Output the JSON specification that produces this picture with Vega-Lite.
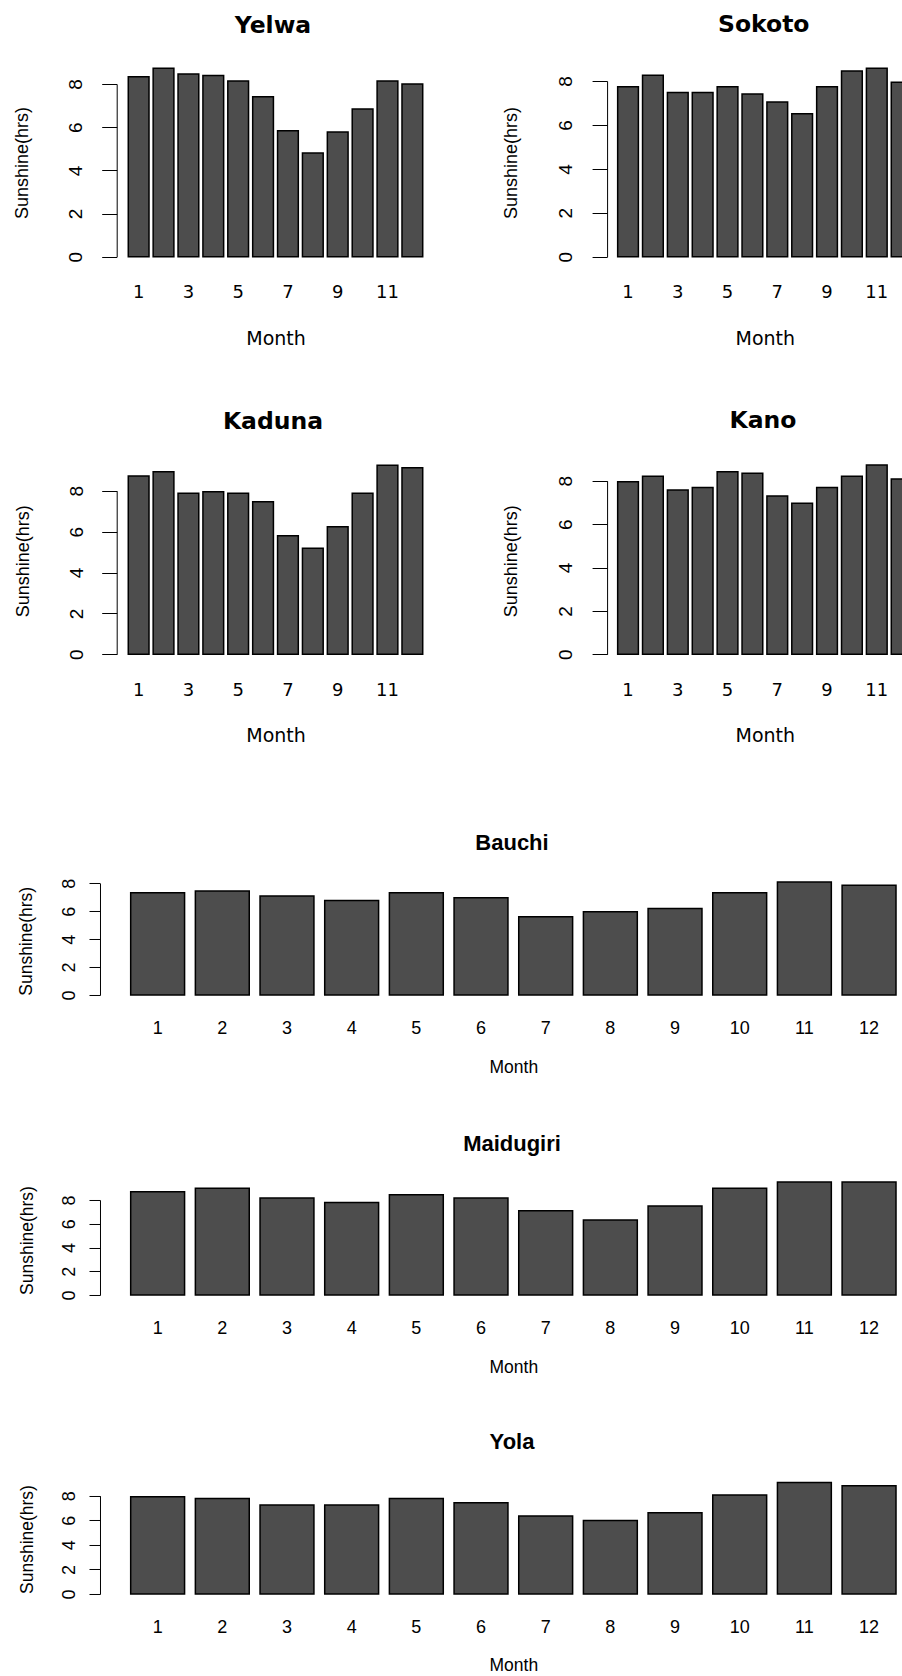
{
  "$schema": "https://vega.github.io/schema/vega-lite/v6.json",
  "background": "white",
  "padding": {"left": 13.7, "top": 0, "right": 0, "bottom": 0},
  "columns": 1,
  "align": "each",
  "bounds": "full",
  "spacing": 0,
  "config": {
    "view": {"stroke": null},
    "axis": {"grid": false, "domainColor": "#000", "tickColor": "#000", "labelColor": "#000", "titleColor": "#000", "labelFlush": false, "labelOverlap": false, "labelBound": false, "titleFontWeight": "normal"},
    "title": {"color": "#000", "frame": "group", "anchor": "middle", "offset": 0}
  },
  "datasets": {
    "sun": [
      {"station": "Yelwa", "month": 1, "sunshine": 8.34}, {"station": "Yelwa", "month": 2, "sunshine": 8.73}, {"station": "Yelwa", "month": 3, "sunshine": 8.46}, {"station": "Yelwa", "month": 4, "sunshine": 8.39}, {"station": "Yelwa", "month": 5, "sunshine": 8.14}, {"station": "Yelwa", "month": 6, "sunshine": 7.41}, {"station": "Yelwa", "month": 7, "sunshine": 5.84}, {"station": "Yelwa", "month": 8, "sunshine": 4.80}, {"station": "Yelwa", "month": 9, "sunshine": 5.78}, {"station": "Yelwa", "month": 10, "sunshine": 6.84}, {"station": "Yelwa", "month": 11, "sunshine": 8.14}, {"station": "Yelwa", "month": 12, "sunshine": 8.00},
      {"station": "Sokoto", "month": 1, "sunshine": 7.74}, {"station": "Sokoto", "month": 2, "sunshine": 8.26}, {"station": "Sokoto", "month": 3, "sunshine": 7.48}, {"station": "Sokoto", "month": 4, "sunshine": 7.48}, {"station": "Sokoto", "month": 5, "sunshine": 7.74}, {"station": "Sokoto", "month": 6, "sunshine": 7.41}, {"station": "Sokoto", "month": 7, "sunshine": 7.04}, {"station": "Sokoto", "month": 8, "sunshine": 6.51}, {"station": "Sokoto", "month": 9, "sunshine": 7.74}, {"station": "Sokoto", "month": 10, "sunshine": 8.46}, {"station": "Sokoto", "month": 11, "sunshine": 8.58}, {"station": "Sokoto", "month": 12, "sunshine": 7.94},
      {"station": "Kaduna", "month": 1, "sunshine": 8.72}, {"station": "Kaduna", "month": 2, "sunshine": 8.93}, {"station": "Kaduna", "month": 3, "sunshine": 7.87}, {"station": "Kaduna", "month": 4, "sunshine": 7.95}, {"station": "Kaduna", "month": 5, "sunshine": 7.87}, {"station": "Kaduna", "month": 6, "sunshine": 7.46}, {"station": "Kaduna", "month": 7, "sunshine": 5.80}, {"station": "Kaduna", "month": 8, "sunshine": 5.18}, {"station": "Kaduna", "month": 9, "sunshine": 6.24}, {"station": "Kaduna", "month": 10, "sunshine": 7.87}, {"station": "Kaduna", "month": 11, "sunshine": 9.25}, {"station": "Kaduna", "month": 12, "sunshine": 9.12},
      {"station": "Kano", "month": 1, "sunshine": 7.95}, {"station": "Kano", "month": 2, "sunshine": 8.21}, {"station": "Kano", "month": 3, "sunshine": 7.57}, {"station": "Kano", "month": 4, "sunshine": 7.69}, {"station": "Kano", "month": 5, "sunshine": 8.41}, {"station": "Kano", "month": 6, "sunshine": 8.34}, {"station": "Kano", "month": 7, "sunshine": 7.29}, {"station": "Kano", "month": 8, "sunshine": 6.96}, {"station": "Kano", "month": 9, "sunshine": 7.69}, {"station": "Kano", "month": 10, "sunshine": 8.21}, {"station": "Kano", "month": 11, "sunshine": 8.72}, {"station": "Kano", "month": 12, "sunshine": 8.08},
      {"station": "Bauchi", "month": 1, "sunshine": 7.33}, {"station": "Bauchi", "month": 2, "sunshine": 7.45}, {"station": "Bauchi", "month": 3, "sunshine": 7.09}, {"station": "Bauchi", "month": 4, "sunshine": 6.76}, {"station": "Bauchi", "month": 5, "sunshine": 7.33}, {"station": "Bauchi", "month": 6, "sunshine": 6.97}, {"station": "Bauchi", "month": 7, "sunshine": 5.61}, {"station": "Bauchi", "month": 8, "sunshine": 5.97}, {"station": "Bauchi", "month": 9, "sunshine": 6.19}, {"station": "Bauchi", "month": 10, "sunshine": 7.33}, {"station": "Bauchi", "month": 11, "sunshine": 8.10}, {"station": "Bauchi", "month": 12, "sunshine": 7.86},
      {"station": "Maidugiri", "month": 1, "sunshine": 8.70}, {"station": "Maidugiri", "month": 2, "sunshine": 8.98}, {"station": "Maidugiri", "month": 3, "sunshine": 8.17}, {"station": "Maidugiri", "month": 4, "sunshine": 7.78}, {"station": "Maidugiri", "month": 5, "sunshine": 8.45}, {"station": "Maidugiri", "month": 6, "sunshine": 8.17}, {"station": "Maidugiri", "month": 7, "sunshine": 7.10}, {"station": "Maidugiri", "month": 8, "sunshine": 6.32}, {"station": "Maidugiri", "month": 9, "sunshine": 7.49}, {"station": "Maidugiri", "month": 10, "sunshine": 8.98}, {"station": "Maidugiri", "month": 11, "sunshine": 9.52}, {"station": "Maidugiri", "month": 12, "sunshine": 9.52},
      {"station": "Yola", "month": 1, "sunshine": 7.92}, {"station": "Yola", "month": 2, "sunshine": 7.78}, {"station": "Yola", "month": 3, "sunshine": 7.24}, {"station": "Yola", "month": 4, "sunshine": 7.24}, {"station": "Yola", "month": 5, "sunshine": 7.78}, {"station": "Yola", "month": 6, "sunshine": 7.43}, {"station": "Yola", "month": 7, "sunshine": 6.35}, {"station": "Yola", "month": 8, "sunshine": 5.99}, {"station": "Yola", "month": 9, "sunshine": 6.62}, {"station": "Yola", "month": 10, "sunshine": 8.05}, {"station": "Yola", "month": 11, "sunshine": 9.08}, {"station": "Yola", "month": 12, "sunshine": 8.81}
    ]
  },
  "concat": [
    {
      "bounds": "flush",
      "spacing": 177.4,
      "hconcat": [
        {
          "data": {"name": "sun"},
          "transform": [{"filter": "datum.station === 'Yelwa'"}],
          "width": 312.6, "height": 360,
          "title": {"text": "Yelwa", "font": "DejaVu Sans", "fontSize": 23.5, "fontWeight": "bold", "baseline": "middle", "dy": 53},
          "mark": {"type": "bar", "fill": "#4D4D4D", "stroke": "#000", "strokeWidth": 1.5},
          "encoding": {
            "x": {"field": "month", "type": "ordinal", "scale": {"range": [9.5, 308.1], "paddingInner": 0.1667, "paddingOuter": 0.0833},
              "axis": {"offset": -103.3, "values": [1,3,5,7,9,11], "domain": false, "ticks": false, "tickSize": 0, "labelAngle": 0, "labelBaseline": "middle", "labelPadding": 36, "labelFont": "DejaVu Sans", "labelFontSize": 18, "title": "Month", "titleFont": "DejaVu Sans", "titleFontSize": 19, "titleBaseline": "middle", "titleY": 81.3}},
            "y": {"field": "sunshine", "type": "quantitative", "scale": {"domain": [0, 8], "nice": false, "range": [256.7, 84]},
              "axis": {"values": [0,2,4,6,8], "tickSize": 15, "labelAngle": 270, "labelAlign": "center", "labelBaseline": "middle", "labelPadding": 25.7, "labelFont": "Liberation Sans", "labelFontSize": 19, "title": "Sunshine(hrs)", "titleFont": "Liberation Sans", "titleFontSize": 18, "titleAngle": 270, "titleAlign": "center", "titleBaseline": "middle", "titleX": -94, "titleY": 162.5}}
          }
        },
        {
          "data": {"name": "sun"},
          "transform": [{"filter": "datum.station === 'Sokoto'"}],
          "width": 295.3, "height": 360,
          "title": {"text": "Sokoto", "font": "DejaVu Sans", "fontSize": 23.5, "fontWeight": "bold", "baseline": "middle", "dy": 52.5, "dx": 9},
          "mark": {"type": "bar", "fill": "#4D4D4D", "stroke": "#000", "strokeWidth": 1.5, "clip": true},
          "encoding": {
            "x": {"field": "month", "type": "ordinal", "scale": {"range": [8.5, 307.0], "paddingInner": 0.1667, "paddingOuter": 0.0833},
              "axis": {"offset": -103.3, "values": [1,3,5,7,9,11], "domain": false, "ticks": false, "tickSize": 0, "labelAngle": 0, "labelBaseline": "middle", "labelPadding": 36, "labelFont": "DejaVu Sans", "labelFontSize": 18, "title": "Month", "titleFont": "DejaVu Sans", "titleFontSize": 19, "titleBaseline": "middle", "titleY": 81.3}},
            "y": {"field": "sunshine", "type": "quantitative", "scale": {"domain": [0, 8], "nice": false, "range": [256.7, 81]},
              "axis": {"values": [0,2,4,6,8], "tickSize": 15, "labelAngle": 270, "labelAlign": "center", "labelBaseline": "middle", "labelPadding": 26.7, "labelFont": "Liberation Sans", "labelFontSize": 19, "title": "Sunshine(hrs)", "titleFont": "Liberation Sans", "titleFontSize": 18, "titleAngle": 270, "titleAlign": "center", "titleBaseline": "middle", "titleX": -95.7, "titleY": 162.5}}
          }
        }
      ]
    },
    {
      "bounds": "flush",
      "spacing": 177.4,
      "hconcat": [
        {
          "data": {"name": "sun"},
          "transform": [{"filter": "datum.station === 'Kaduna'"}],
          "width": 312.6, "height": 400,
          "title": {"text": "Kaduna", "font": "DejaVu Sans", "fontSize": 23.5, "fontWeight": "bold", "baseline": "middle", "dy": 89},
          "mark": {"type": "bar", "fill": "#4D4D4D", "stroke": "#000", "strokeWidth": 1.5},
          "encoding": {
            "x": {"field": "month", "type": "ordinal", "scale": {"range": [9.5, 308.1], "paddingInner": 0.1667, "paddingOuter": 0.0833},
              "axis": {"offset": -105.7, "values": [1,3,5,7,9,11], "domain": false, "ticks": false, "tickSize": 0, "labelAngle": 0, "labelBaseline": "middle", "labelPadding": 36.5, "labelFont": "DejaVu Sans", "labelFontSize": 18, "title": "Month", "titleFont": "DejaVu Sans", "titleFontSize": 19, "titleBaseline": "middle", "titleY": 81.5}},
            "y": {"field": "sunshine", "type": "quantitative", "scale": {"domain": [0, 8], "nice": false, "range": [294.3, 130.7]},
              "axis": {"values": [0,2,4,6,8], "tickSize": 15, "labelAngle": 270, "labelAlign": "center", "labelBaseline": "middle", "labelPadding": 25, "labelFont": "Liberation Sans", "labelFontSize": 19, "title": "Sunshine(hrs)", "titleFont": "Liberation Sans", "titleFontSize": 18, "titleAngle": 270, "titleAlign": "center", "titleBaseline": "middle", "titleX": -93.4, "titleY": 200.8}}
          }
        },
        {
          "data": {"name": "sun"},
          "transform": [{"filter": "datum.station === 'Kano'"}],
          "width": 295.3, "height": 400,
          "title": {"text": "Kano", "font": "DejaVu Sans", "fontSize": 23.5, "fontWeight": "bold", "baseline": "middle", "dy": 88.8, "dx": 8.2},
          "mark": {"type": "bar", "fill": "#4D4D4D", "stroke": "#000", "strokeWidth": 1.5, "clip": true},
          "encoding": {
            "x": {"field": "month", "type": "ordinal", "scale": {"range": [8.5, 307.0], "paddingInner": 0.1667, "paddingOuter": 0.0833},
              "axis": {"offset": -105.7, "values": [1,3,5,7,9,11], "domain": false, "ticks": false, "tickSize": 0, "labelAngle": 0, "labelBaseline": "middle", "labelPadding": 36.5, "labelFont": "DejaVu Sans", "labelFontSize": 18, "title": "Month", "titleFont": "DejaVu Sans", "titleFontSize": 19, "titleBaseline": "middle", "titleY": 81.5}},
            "y": {"field": "sunshine", "type": "quantitative", "scale": {"domain": [0, 8], "nice": false, "range": [294.3, 120.7]},
              "axis": {"values": [0,2,4,6,8], "tickSize": 15, "labelAngle": 270, "labelAlign": "center", "labelBaseline": "middle", "labelPadding": 26.7, "labelFont": "Liberation Sans", "labelFontSize": 19, "title": "Sunshine(hrs)", "titleFont": "Liberation Sans", "titleFontSize": 18, "titleAngle": 270, "titleAlign": "center", "titleBaseline": "middle", "titleX": -95.9, "titleY": 200.8}}
          }
        }
      ]
    },
    {
      "data": {"name": "sun"},
      "transform": [{"filter": "datum.station === 'Bauchi'"}],
      "width": 785.3, "height": 330,
      "title": {"text": "Bauchi", "font": "Liberation Sans", "fontSize": 22, "fontWeight": "bold", "baseline": "middle", "dy": 109, "dx": 2.65},
      "mark": {"type": "bar", "fill": "#4D4D4D", "stroke": "#000", "strokeWidth": 1.5},
      "encoding": {
        "x": {"field": "month", "type": "ordinal", "scale": {"range": [8.6, 784.7], "paddingInner": 0.1667, "paddingOuter": 0.0833},
          "axis": {"offset": -95, "domain": false, "ticks": false, "tickSize": 0, "labelAngle": 0, "labelBaseline": "middle", "labelPadding": 33.3, "labelFont": "Liberation Sans", "labelFontSize": 18, "title": "Month", "titleFont": "Liberation Sans", "titleFontSize": 17.5, "titleBaseline": "middle", "titleY": 73}},
        "y": {"field": "sunshine", "type": "quantitative", "scale": {"domain": [0, 8], "nice": false, "range": [235, 123.3]},
          "axis": {"offset": 16.7, "values": [0,2,4,6,8], "tickSize": 11, "labelAngle": 270, "labelAlign": "center", "labelBaseline": "middle", "labelPadding": 19, "labelFont": "Liberation Sans", "labelFontSize": 18, "title": "Sunshine(hrs)", "titleFont": "Liberation Sans", "titleFontSize": 17.5, "titleAngle": 270, "titleAlign": "center", "titleBaseline": "middle", "titleX": -73.3, "titleY": 180.8}}
      }
    },
    {
      "data": {"name": "sun"},
      "transform": [{"filter": "datum.station === 'Maidugiri'"}],
      "width": 785.3, "height": 300,
      "title": {"text": "Maidugiri", "font": "Liberation Sans", "fontSize": 22, "fontWeight": "bold", "baseline": "middle", "dy": 80, "dx": 2.65},
      "mark": {"type": "bar", "fill": "#4D4D4D", "stroke": "#000", "strokeWidth": 1.5},
      "encoding": {
        "x": {"field": "month", "type": "ordinal", "scale": {"range": [8.6, 784.7], "paddingInner": 0.1667, "paddingOuter": 0.0833},
          "axis": {"offset": -95, "domain": false, "ticks": false, "tickSize": 0, "labelAngle": 0, "labelBaseline": "middle", "labelPadding": 33.3, "labelFont": "Liberation Sans", "labelFontSize": 18, "title": "Month", "titleFont": "Liberation Sans", "titleFontSize": 17.5, "titleBaseline": "middle", "titleY": 72.5}},
        "y": {"field": "sunshine", "type": "quantitative", "scale": {"domain": [0, 8], "nice": false, "range": [205, 110]},
          "axis": {"offset": 16.7, "values": [0,2,4,6,8], "tickSize": 11, "labelAngle": 270, "labelAlign": "center", "labelBaseline": "middle", "labelPadding": 19, "labelFont": "Liberation Sans", "labelFontSize": 18, "title": "Sunshine(hrs)", "titleFont": "Liberation Sans", "titleFontSize": 17.5, "titleAngle": 270, "titleAlign": "center", "titleBaseline": "middle", "titleX": -72, "titleY": 150}}
      }
    },
    {
      "data": {"name": "sun"},
      "transform": [{"filter": "datum.station === 'Yola'"}],
      "width": 785.3, "height": 286,
      "title": {"text": "Yola", "font": "Liberation Sans", "fontSize": 22, "fontWeight": "bold", "baseline": "middle", "dy": 78, "dx": 2.65},
      "mark": {"type": "bar", "fill": "#4D4D4D", "stroke": "#000", "strokeWidth": 1.5},
      "encoding": {
        "x": {"field": "month", "type": "ordinal", "scale": {"range": [8.6, 784.7], "paddingInner": 0.1667, "paddingOuter": 0.0833},
          "axis": {"offset": -82, "domain": false, "ticks": false, "tickSize": 0, "labelAngle": 0, "labelBaseline": "middle", "labelPadding": 33.3, "labelFont": "Liberation Sans", "labelFontSize": 18, "title": "Month", "titleFont": "Liberation Sans", "titleFontSize": 17.5, "titleBaseline": "middle", "titleY": 72}},
        "y": {"field": "sunshine", "type": "quantitative", "scale": {"domain": [0, 8], "nice": false, "range": [204, 105.7]},
          "axis": {"offset": 16.7, "values": [0,2,4,6,8], "tickSize": 11, "labelAngle": 270, "labelAlign": "center", "labelBaseline": "middle", "labelPadding": 19, "labelFont": "Liberation Sans", "labelFontSize": 18, "title": "Sunshine(hrs)", "titleFont": "Liberation Sans", "titleFontSize": 17.5, "titleAngle": 270, "titleAlign": "center", "titleBaseline": "middle", "titleX": -72, "titleY": 149}}
      }
    }
  ]
}
